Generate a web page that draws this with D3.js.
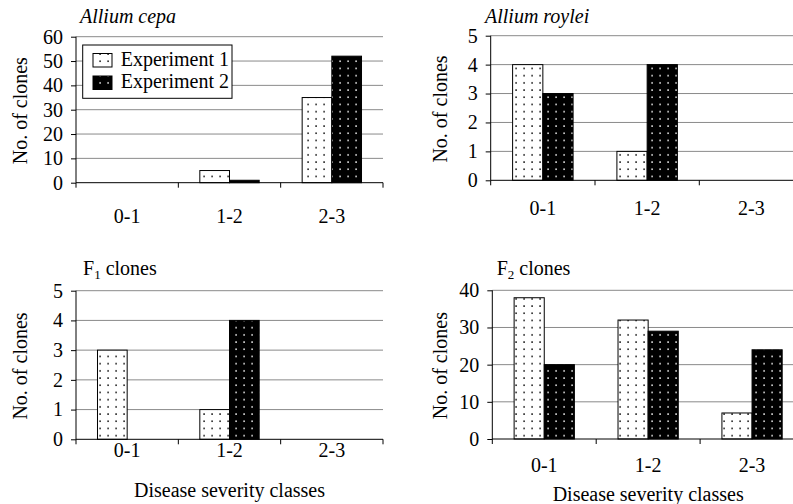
<!DOCTYPE html>
<html>
<head>
<meta charset="utf-8">
<script src="https://cdn.jsdelivr.net/npm/d3@7"></script>
<style>
  body { margin: 0; background: #fff; }
</style>
</head>
<body>
<div id="chart"></div>
<script>
// data
const categories = ["0-1", "1-2", "2-3"];
const seriesNames = ["Experiment 1", "Experiment 2"];

const cepaExp1 = [0, 5, 35];
const cepaExp2 = [0, 1, 52];
const royleiExp1 = [4, 1, 0];
const royleiExp2 = [3, 4, 0];
const f1Exp1 = [3, 1, 0];
const f1Exp2 = [0, 4, 0];
const f2Exp1 = [38, 32, 7];
const f2Exp2 = [20, 29, 24];

const ticksTen = [0, 10, 20, 30, 40, 50, 60];
const ticksFive = [0, 1, 2, 3, 4, 5];
const ticksForty = [0, 10, 20, 30, 40];

const FONT = "'Liberation Serif', 'Times New Roman', 'DejaVu Serif', serif";

// panel layout
const panels = [
    {title: "Allium cepa", italic: true, exp1: cepaExp1, exp2: cepaExp2, ticks: ticksTen, max: 60,
     x0: 76, x1: 383, top: 36.7, bottom: 182.7, catY: 40, xTitle: null,
     tx: 80, ty: 23, yTitleX: 27, legend: true},
    {title: "Allium roylei", italic: true, exp1: royleiExp1, exp2: royleiExp2, ticks: ticksFive, max: 5,
     x0: 490.7, x1: 803.6, top: 35.7, bottom: 180.3, catY: 35, xTitle: null,
     tx: 485, ty: 23, yTitleX: 447},
    {title: "F", sub: "1", italic: false, exp1: f1Exp1, exp2: f1Exp2, ticks: ticksFive, max: 5,
     x0: 76, x1: 383, top: 290.7, bottom: 439.3, catY: 18, xTitle: 496.5,
     tx: 83, ty: 275, yTitleX: 27},
    {title: "F", sub: "2", italic: false, exp1: f2Exp1, exp2: f2Exp2, ticks: ticksForty, max: 40,
     x0: 492.3, x1: 804, top: 290.3, bottom: 439, catY: 33, xTitle: 500.5,
     tx: 496.7, ty: 275, yTitleX: 447}
];

const W = 793, H = 504;

const svg = d3.select("#chart").append("svg")
    .attr("width", W)
    .attr("height", H)
    .style("display", "block")
    .attr("font-family", FONT);

// dotted fills
let defs = svg.append("defs");
let p1 = defs.append("pattern")
    .attr("id", "dots1").attr("patternUnits", "userSpaceOnUse")
    .attr("width", 8).attr("height", 7.2);
p1.append("rect").attr("width", 8).attr("height", 7.2).attr("fill", "#fff");
p1.append("rect").attr("x", 3.3).attr("y", 2.9).attr("width", 1.6).attr("height", 1.6).attr("fill", "#222");

let p2 = defs.append("pattern")
    .attr("id", "dots2").attr("patternUnits", "userSpaceOnUse")
    .attr("width", 8).attr("height", 7.2);
p2.append("rect").attr("width", 8).attr("height", 7.2).attr("fill", "#000");
p2.append("rect").attr("x", 3.3).attr("y", 2.9).attr("width", 1.6).attr("height", 1.6).attr("fill", "#ddd");

const fills = ["url(#dots1)", "url(#dots2)"];

panels.forEach(p => {
    let g = svg.append("g");

    let x = d3.scaleBand()
        .domain(categories)
        .range([p.x0, p.x1]);

    let xs = d3.scaleBand()
        .domain(seriesNames)
        .range([x.bandwidth() * 0.21, x.bandwidth() * 0.79]);

    let y = d3.scaleLinear()
        .domain([0, p.max])
        .range([p.bottom, p.top]);

    // gridlines
    g.selectAll(".grid")
        .data(p.ticks.filter(t => t > 0))
        .enter().append("line")
        .attr("x1", p.x0).attr("x2", p.x1)
        .attr("y1", d => y(d)).attr("y2", d => y(d))
        .attr("stroke", "#8a8a8a")
        .attr("stroke-width", 1);

    // bars
    let rows = [];
    categories.forEach((c, i) => {
        rows.push({cat: c, s: 0, v: p.exp1[i]});
        rows.push({cat: c, s: 1, v: p.exp2[i]});
    });

    g.selectAll(".bar")
        .data(rows.filter(d => d.v > 0))
        .enter().append("rect")
        .attr("x", d => x(d.cat) + xs(seriesNames[d.s]))
        .attr("width", xs.bandwidth())
        .attr("y", d => y(d.v))
        .attr("height", d => y(0) - y(d.v))
        .attr("fill", d => fills[d.s])
        .attr("stroke", "#000")
        .attr("stroke-width", 1);

    // y axis
    let yAxis = d3.axisLeft(y)
        .tickValues(p.ticks)
        .tickSize(5)
        .tickPadding(8)
        .tickFormat(d3.format("d"));

    let ya = g.append("g")
        .attr("transform", "translate(" + p.x0 + ",0)")
        .call(yAxis)
        .attr("font-family", FONT)
        .attr("font-size", 20);
    ya.select(".domain").attr("d", "M0," + p.top + "V" + p.bottom);
    ya.selectAll("text").attr("fill", "#000");

    // x axis line with boundary ticks
    g.append("line")
        .attr("x1", p.x0).attr("x2", p.x1)
        .attr("y1", p.bottom).attr("y2", p.bottom)
        .attr("stroke", "#000");

    let bounds = categories.map(c => x(c)).concat([p.x1]);
    g.selectAll(".xtick")
        .data(bounds)
        .enter().append("line")
        .attr("x1", d => d).attr("x2", d => d)
        .attr("y1", p.bottom).attr("y2", p.bottom + 5)
        .attr("stroke", "#000");

    g.selectAll(".cat")
        .data(categories)
        .enter().append("text")
        .attr("x", d => x(d) + x.bandwidth() / 2)
        .attr("y", p.bottom + p.catY)
        .attr("text-anchor", "middle")
        .attr("font-size", 20)
        .text(d => d);

    // y title
    g.append("text")
        .attr("transform", "translate(" + p.yTitleX + "," + ((p.top + p.bottom) / 2 + 1) + ") rotate(-90)")
        .attr("text-anchor", "middle")
        .attr("font-size", 20)
        .text("No. of clones");

    // x title
    if (p.xTitle) {
        g.append("text")
            .attr("x", (p.x0 + p.x1) / 2)
            .attr("y", p.xTitle)
            .attr("text-anchor", "middle")
            .attr("font-size", 20)
            .text("Disease severity classes");
    }

    // panel title
    let t = g.append("text")
        .attr("x", p.tx)
        .attr("y", p.ty)
        .attr("font-size", 20)
        .attr("font-style", p.italic ? "italic" : "normal");
    t.append("tspan").text(p.title);
    if (p.sub) {
        t.append("tspan").attr("font-size", 13).attr("dy", 4).text(p.sub);
        t.append("tspan").attr("dy", -4).text(" clones");
    }

    // legend
    if (p.legend) {
        let lg = g.append("g");
        lg.append("rect")
            .attr("x", 82.7).attr("y", 45)
            .attr("width", 149.3).attr("height", 53.3)
            .attr("fill", "#fff")
            .attr("stroke", "#000");
        seriesNames.forEach((s, i) => {
            lg.append("rect")
                .attr("x", 93).attr("y", 53.5 + i * 22.5)
                .attr("width", 19).attr("height", 13.5)
                .attr("fill", fills[i])
                .attr("stroke", "#000");
            lg.append("text")
                .attr("x", 120.7).attr("y", 65.5 + i * 22.5)
                .attr("font-size", 20)
                .text(s);
        });
    }
});
</script>
</body>
</html>
